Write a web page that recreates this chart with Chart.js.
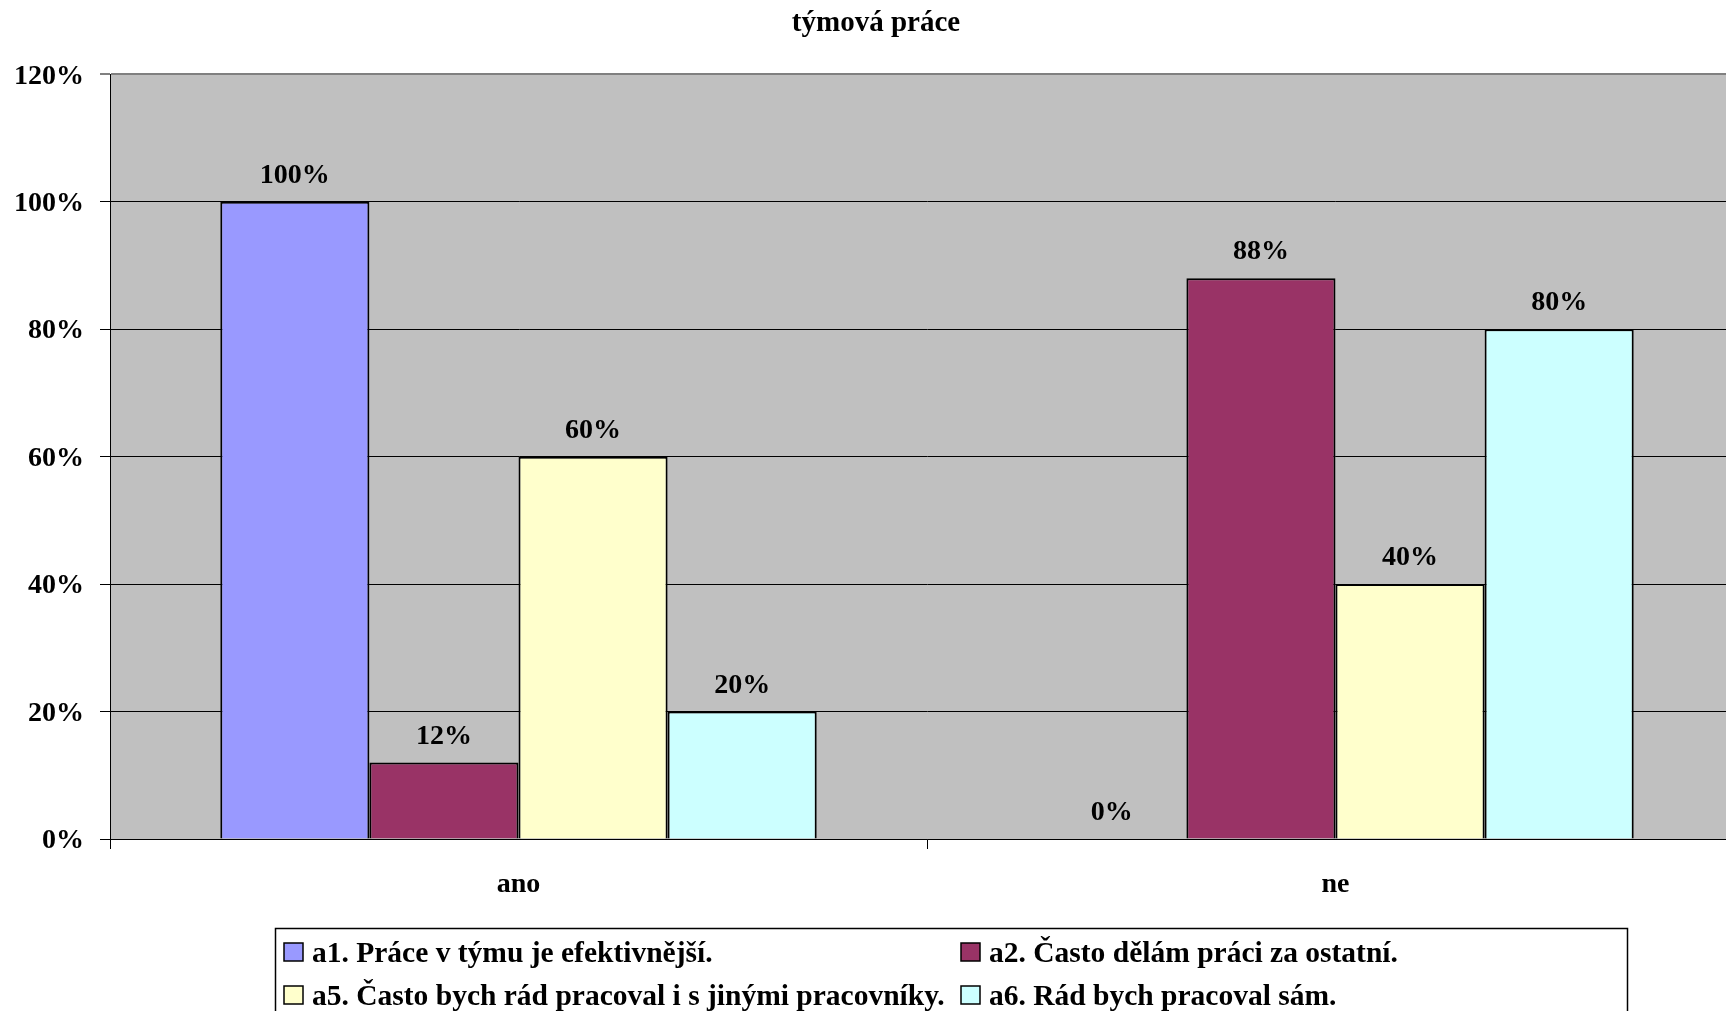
<!DOCTYPE html>
<html lang="cs">
<head>
<meta charset="utf-8">
<title>týmová práce</title>
<script src="https://cdn.jsdelivr.net/npm/chart.js@4.4.1/dist/chart.umd.min.js"></script>
<style>
  html, body { margin: 0; padding: 0; background: #fff; overflow: hidden; }
  #wrap { width: 1726px; height: 1011px; overflow: hidden; }
  canvas { display: block; }
</style>
</head>
<body>
<div id="wrap"><canvas id="chart" width="1760" height="1011"></canvas></div>
<script>
// týmová práce - odpovědi ano / ne
const chartTitle = 'týmová práce';
const categories = ['ano', 'ne'];
const seriesNames = [
  'a1. Práce v týmu je efektivnější.',
  'a2. Často dělám práci za ostatní.',
  'a5. Často bych rád pracoval i s jinými pracovníky.',
  'a6. Rád bych pracoval sám.'
];
const a1 = [100, 0];
const a2 = [12, 88];
const a5 = [60, 40];
const a6 = [20, 80];
const yTicks = [0, 20, 40, 60, 80, 100, 120];

const colors = ['#9999FF', '#993366', '#FFFFCC', '#CCFFFF'];
const FONT = '"Liberation Serif", "Times New Roman", serif';

// legend slots: swatch x, text baseline y (two columns)
const legendSlots = [[284, 962], [961, 962], [284, 1005], [961, 1005]];

const plotBg = {
  id: 'plotBg',
  beforeDraw(chart){
    const { ctx, chartArea: a } = chart;
    ctx.save();
    ctx.fillStyle = '#fff';
    ctx.fillRect(0, 0, chart.width, chart.height);
    ctx.fillStyle = '#C0C0C0';
    ctx.fillRect(a.left, a.top, a.right - a.left, a.bottom - a.top);
    ctx.font = 'bold 29px ' + FONT;
    ctx.fillStyle = '#000';
    ctx.textAlign = 'center';
    ctx.textBaseline = 'alphabetic';
    ctx.fillText(chartTitle, 876, 31);
    ctx.restore();
  }
};

const valueLabels = {
  id: 'valueLabels',
  afterDatasetsDraw(chart){
    const ctx = chart.ctx;
    ctx.save();
    ctx.font = 'bold 28px ' + FONT;
    ctx.fillStyle = '#000';
    ctx.textAlign = 'center';
    ctx.textBaseline = 'alphabetic';
    chart.data.datasets.forEach((ds, i) => {
      chart.getDatasetMeta(i).data.forEach((bar, j) => {
        ctx.fillText(ds.data[j] + '%', bar.x, bar.y - 19);
      });
    });
    ctx.restore();
  }
};

const boxLegend = {
  id: 'boxLegend',
  afterDraw(chart){
    const ctx = chart.ctx;
    ctx.save();
    ctx.fillStyle = '#fff';
    ctx.fillRect(275, 928, 1352, 120);
    ctx.strokeStyle = '#000';
    ctx.lineWidth = 1.5;
    ctx.strokeRect(275.5, 928.5, 1352, 120);
    ctx.font = 'bold 29.5px ' + FONT;
    ctx.textBaseline = 'alphabetic';
    ctx.textAlign = 'left';
    chart.data.datasets.forEach((ds, i) => {
      const [x, y] = legendSlots[i];
      ctx.fillStyle = ds.backgroundColor;
      ctx.fillRect(x, y - 19, 19, 18);
      ctx.lineWidth = 1.5;
      ctx.strokeStyle = '#000';
      ctx.strokeRect(x, y - 19, 19, 18);
      ctx.fillStyle = '#000';
      ctx.fillText(ds.label, x + 28, y);
    });
    ctx.restore();
  }
};

const seriesData = [a1, a2, a5, a6];

new Chart(document.getElementById('chart'), {
  type: 'bar',
  data: {
    labels: categories,
    datasets: seriesData.map((d, i) => ({
      label: seriesNames[i],
      data: d,
      backgroundColor: colors[i],
      borderColor: '#000',
      borderWidth: 2,
      borderSkipped: 'bottom',
      categoryPercentage: 0.73,
      barPercentage: 1
    }))
  },
  options: {
    responsive: false,
    animation: false,
    layout: { padding: { left: 0, right: 16, top: 74.3, bottom: 0 } },
    plugins: {
      legend: { display: false },
      tooltip: { enabled: false },
      title: { display: false }
    },
    scales: {
      x: {
        offset: true,
        grid: { offset: true, drawOnChartArea: false, drawTicks: true, tickLength: 10, color: '#000' },
        border: { color: '#000', width: 1 },
        ticks: {
          color: '#000',
          font: { family: FONT, size: 28, weight: 'bold' },
          padding: 19,
          maxRotation: 0
        },
        afterFit(scale){ scale.height = 172; }
      },
      y: {
        min: yTicks[0],
        max: yTicks[yTicks.length - 1],
        afterBuildTicks(scale){ scale.ticks = yTicks.map(v => ({ value: v })); },
        grid: {
          color: c => c.tick && c.tick.value === 120 ? '#808080' : '#000',
          lineWidth: c => c.tick && c.tick.value === 120 ? 2 : 1,
          tickLength: 10
        },
        border: { color: '#000', width: 1 },
        ticks: {
          color: '#000',
          font: { family: FONT, size: 28, weight: 'bold' },
          padding: 16,
          labelOffset: 2,
          callback: v => v + '%'
        },
        afterFit(scale){ scale.width = 110; }
      }
    }
  },
  plugins: [plotBg, valueLabels, boxLegend]
});
</script>
</body>
</html>
